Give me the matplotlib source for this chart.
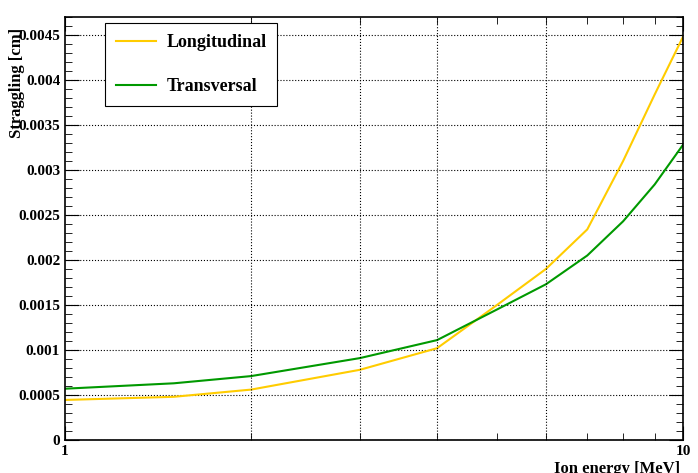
import matplotlib
matplotlib.use("Agg")
import matplotlib.pyplot as plt
from matplotlib.ticker import FixedLocator, NullFormatter

energy = [1, 1.5, 2, 3, 4, 5, 6, 7, 8, 9, 10]
longitudinal = [0.000445, 0.00048, 0.00056, 0.00078, 0.00102, 0.0015, 0.0019, 0.00234, 0.0031, 0.00384, 0.00448]
transversal = [0.00057, 0.00063, 0.00071, 0.00091, 0.00111, 0.00145, 0.00173, 0.00205, 0.00243, 0.00284, 0.00328]
yticks = [0, 0.0005, 0.001, 0.0015, 0.002, 0.0025, 0.003, 0.0035, 0.004, 0.0045]
ylabels = ["0", "0.0005", "0.001", "0.0015", "0.002", "0.0025", "0.003", "0.0035", "0.004", "0.0045"]

plt.rcParams['font.family'] = ['Liberation Serif', 'DejaVu Serif']
plt.rcParams['font.weight'] = 'bold'
fig = plt.figure(figsize=(6.98, 4.73), dpi=100)
ax = fig.add_axes([65/698, 1-440/473, 618/698, 423/473])
ax.plot(energy, longitudinal, color='#ffcc00', lw=1.5, label='Longitudinal')
ax.plot(energy, transversal, color='#009900', lw=1.5, label='Transversal')
ax.set_xscale('log')
ax.set_xlim(1, 10)
ax.set_ylim(0, 0.0047)
ax.xaxis.set_major_locator(FixedLocator([1, 10]))
ax.set_xticklabels(['1', '10'], fontsize=11, fontweight='bold')
ax.xaxis.set_minor_locator(FixedLocator([2, 3, 4, 5, 6, 7, 8, 9]))
ax.xaxis.set_minor_formatter(NullFormatter())
ax.set_yticks(yticks)
ax.set_yticklabels(ylabels, fontsize=11, fontweight='bold')
ax.yaxis.set_minor_locator(FixedLocator([i*0.0001 for i in range(48)]))
ax.tick_params(which='both', direction='in', top=True, right=True)
ax.tick_params(which='major', length=10)
ax.tick_params(which='minor', length=5)
ax.grid(True, which='major', axis='y', ls=':', color='black', lw=0.8)
for g in [2, 3, 4, 6]:
    ax.axvline(g, ls=':', color='black', lw=0.8)
for s in ax.spines.values():
    s.set_linewidth(1.2)
ax.set_xlabel('Ion energy [MeV]', fontsize=12, fontweight='bold')
ax.xaxis.set_label_coords(0.995, -0.05)
ax.xaxis.label.set_ha('right')
ax.xaxis.label.set_va('top')
ax.set_ylabel('Straggling [cm]', fontsize=12, fontweight='bold')
ax.yaxis.set_label_coords(-0.065, 0.975)
ax.yaxis.label.set_ha('right')
leg = ax.legend(loc='upper left', bbox_to_anchor=(40/618, 1-6/423), borderaxespad=0,
                fontsize=13, fancybox=False, edgecolor='black', framealpha=1,
                borderpad=0.6, labelspacing=1.5, handlelength=2.2, handletextpad=0.6)
leg.get_frame().set_linewidth(0.8)
fig.canvas.draw()
fig.savefig('out.png', dpi=100)
